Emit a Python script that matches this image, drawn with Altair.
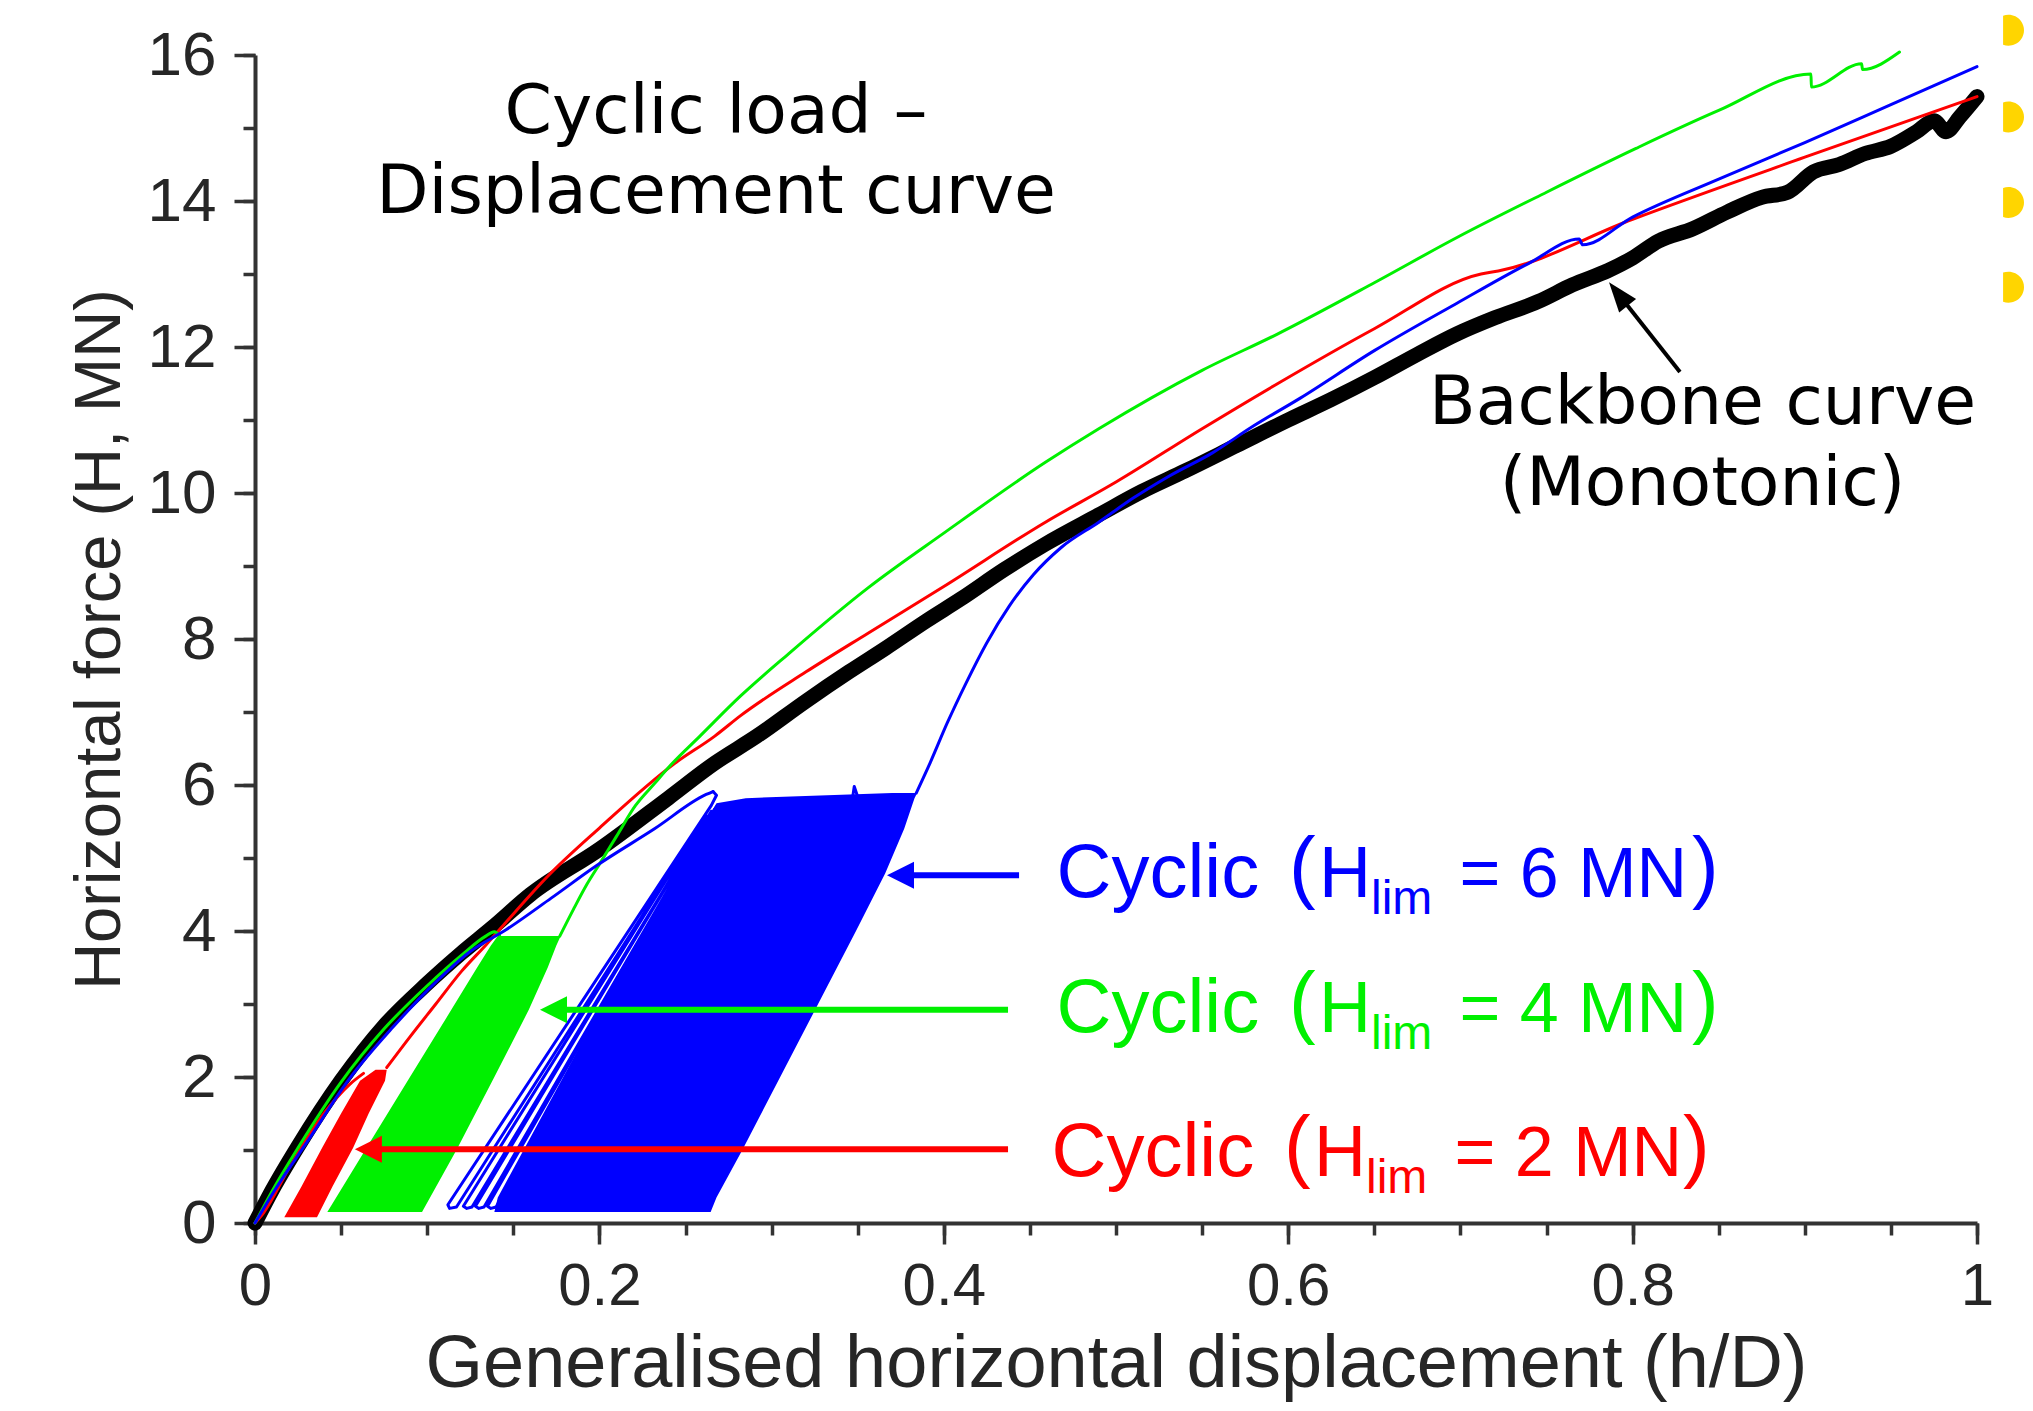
import math
import altair as alt
import pandas as pd

# ---------------- values ----------------
# Monotonic backbone curve (h/D, H in MN)
backbone = [(0.0, 0.0), (0.01, 0.45), (0.025, 1.05), (0.05, 1.95), (0.075, 2.7), (0.1, 3.28),
            (0.12, 3.7), (0.138, 4.05), (0.16, 4.5), (0.2, 5.12), (0.24, 5.82), (0.267, 6.3),
            (0.2915, 6.67), (0.32, 7.15), (0.345, 7.55), (0.366, 7.87), (0.39, 8.25), (0.41, 8.55),
            (0.435, 8.95), (0.459, 9.3), (0.49, 9.7), (0.515, 10.02), (0.54, 10.3), (0.57, 10.65),
            (0.6, 11.0), (0.625, 11.28), (0.65, 11.58), (0.675, 11.9), (0.698, 12.18), (0.72, 12.4),
            (0.745, 12.62), (0.765, 12.85), (0.786, 13.05), (0.8, 13.22), (0.815, 13.45),
            (0.835, 13.62), (0.855, 13.85), (0.875, 14.05), (0.89, 14.12), (0.905, 14.4),
            (0.92, 14.5), (0.935, 14.65), (0.95, 14.75), (0.965, 14.95), (0.975, 15.1),
            (0.982, 14.95), (0.99, 15.15), (1.0, 15.43)]

# Cyclic, Hlim = 2 MN (red)
red_first = [(0.0, 0.0), (0.005, 0.14), (0.02, 0.76), (0.04, 1.5), (0.055, 1.9), (0.063, 2.05)]
red_after = [(0.0765, 2.13), (0.09, 2.55), (0.105, 3.0), (0.12, 3.45), (0.1345, 3.82), (0.145, 4.1),
             (0.17, 4.75), (0.2, 5.41), (0.244, 6.3), (0.267, 6.67), (0.282, 6.95), (0.32, 7.55),
             (0.356, 8.08), (0.4, 8.72), (0.459, 9.6), (0.5, 10.15), (0.55, 10.88), (0.594, 11.5),
             (0.65, 12.25), (0.712, 13.0), (0.722, 13.04), (0.8, 13.75), (0.9, 14.6), (1.0, 15.43)]
# dense cycles band: (H, left h/D, right h/D)
red_band = [(0.08, 0.017, 0.036), (0.5, 0.027, 0.045), (1.03, 0.039, 0.057), (1.5, 0.05, 0.066),
            (1.95, 0.061, 0.0755), (2.1, 0.07, 0.0765)]

# Cyclic, Hlim = 4 MN (green)
green_first = [(0.0, 0.0), (0.01, 0.44), (0.025, 1.03), (0.05, 1.93), (0.075, 2.66), (0.1, 3.25),
               (0.12, 3.67), (0.134, 3.93), (0.139, 3.99), (0.142, 3.94)]
green_after = [(0.177, 3.93), (0.185, 4.3), (0.193, 4.65), (0.2004, 4.93), (0.21, 5.3), (0.221, 5.72),
               (0.232, 6.02), (0.2417, 6.28), (0.2584, 6.67), (0.282, 7.22), (0.31, 7.8), (0.356, 8.7),
               (0.4, 9.45), (0.459, 10.42), (0.49, 10.88), (0.55, 11.68), (0.594, 12.18), (0.65, 12.88),
               (0.698, 13.5), (0.75, 14.12), (0.802, 14.72), (0.85, 15.24), (0.9036, 15.74),
               (0.9038, 15.56), (0.933, 15.88), (0.9335, 15.8), (0.955, 16.04)]
green_band = [(0.15, 0.042, 0.097), (1.0, 0.064, 0.117), (2.0, 0.09, 0.139), (2.92, 0.114, 0.159),
              (3.5, 0.129, 0.17), (3.8, 0.137, 0.175), (3.93, 0.141, 0.1775)]

# Cyclic, Hlim = 6 MN (blue)
blue_first = [(0.0, 0.0), (0.012, 0.47), (0.03, 1.1), (0.055, 1.98), (0.08, 2.68), (0.105, 3.3),
              (0.125, 3.72), (0.146, 4.02), (0.172, 4.45), (0.198, 4.89), (0.232, 5.4), (0.262, 5.87),
              (0.266, 5.91)]
blue_loops = [(0.266, 5.91), (0.268, 5.86), (0.265, 5.72), (0.112, 0.25), (0.113, 0.2), (0.117, 0.22),
              (0.262, 5.58), (0.121, 0.23), (0.123, 0.2), (0.126, 0.22), (0.265, 5.64), (0.128, 0.23),
              (0.13, 0.2), (0.133, 0.22), (0.267, 5.67), (0.135, 0.23), (0.137, 0.2), (0.14, 0.22),
              (0.268, 5.7)]
blue_blip = [(0.347, 5.82), (0.348, 5.98), (0.35, 5.84)]
blue_after = [(0.384, 5.89), (0.392, 6.3), (0.402, 6.85), (0.413, 7.4), (0.425, 7.95), (0.438, 8.45),
              (0.452, 8.88), (0.468, 9.25), (0.49, 9.6), (0.51, 9.93), (0.53, 10.22), (0.556, 10.55),
              (0.58, 10.92), (0.607, 11.3), (0.65, 11.95), (0.698, 12.6), (0.74, 13.15), (0.769, 13.48),
              (0.771, 13.4), (0.8, 13.78), (0.85, 14.3), (0.9, 14.8), (0.95, 15.32), (1.0, 15.84)]
blue_band = [(0.15, 0.139, 0.2646), (0.35, 0.141, 0.268), (1.0, 0.156, 0.283), (2.0, 0.179, 0.305),
             (3.0, 0.202, 0.327), (4.0, 0.226, 0.349), (4.79, 0.245, 0.366), (5.4, 0.259, 0.377),
             (5.75, 0.268, 0.382), (5.82, 0.285, 0.383), (5.89, 0.37, 0.3845)]

x_major = [0, 0.2, 0.4, 0.6, 0.8, 1.0]
x_minor = [0, 0.05, 0.1, 0.15, 0.2, 0.25, 0.3, 0.35, 0.4, 0.45, 0.5, 0.55, 0.6, 0.65, 0.7,
           0.75, 0.8, 0.85, 0.9, 0.95, 1.0]
y_major = [0, 2, 4, 6, 8, 10, 12, 14, 16]
y_minor = [0, 1, 2, 3, 4, 5, 6, 7, 8, 9, 10, 11, 12, 13, 14, 15, 16]

# ---------------- annotation anchors (data units) ----------------
title_lines = ["Cyclic load \u2013", "Displacement curve"]
title_x = 0.2677
title_y = [14.93, 13.84]
bb_label_lines = ["Backbone curve", "(Monotonic)"]
bb_label_x = 0.8406
bb_label_y = [10.95, 9.83]
bb_arrow_tip = (0.7863, 12.887)
bb_arrow_tail = (0.8275, 11.659)

cyc_names = ["6", "4", "2"]
cyc_colors = ["#0000FF", "#00F000", "#FF0000"]
cyc_base_y = [4.464, 2.621, 0.642]
cyc_sub_y = [4.232, 2.389, 0.410]
cyc_paren_y = [4.519, 2.676, 0.696]
# x anchors of: "Cyclic", "(", "H", "lim", "= n MN", ")"
cyc_piece_x = [[0.4655, 0.6005, 0.6179, 0.6481, 0.6995, 0.8345],
               [0.4655, 0.6005, 0.6179, 0.6481, 0.6995, 0.8345],
               [0.4626, 0.5976, 0.6150, 0.6452, 0.6966, 0.8293]]
arrow_y = [4.764, 2.921, 1.01]
arrow_tip = [0.367, 0.1655, 0.058]
arrow_tail = [0.4437, 0.4373, 0.4373]

yellow_x = 1.0183
yellow_y = [16.34, 15.15, 13.98, 12.82]

# ---------------- chart ----------------
W, H = 1722, 1168
AX = "#333333"
TX = "#262626"
xs = alt.Scale(domain=[0, 1], nice=False, zero=False)
ys = alt.Scale(domain=[0, 16], nice=False, zero=False)


def path_df(*segs):
    rows = []
    for s, seg in enumerate(segs):
        for i, (x, y) in enumerate(seg):
            rows.append({"x": x, "y": y, "seg": s, "i": i})
    return pd.DataFrame(rows)


def line_layer(df, color, width, axes=False, interp="linear"):
    if axes:
        ax_x = alt.Axis(values=x_major, format="~g", orient="bottom", grid=False,
                        domainColor=AX, domainWidth=4, tickColor=AX, tickWidth=3.5, tickSize=21,
                        labelFont="Liberation Sans", labelFontSize=60, labelColor=TX,
                        labelPadding=60, labelBaseline="alphabetic", labelFlush=False,
                        labelOverlap=False,
                        title="Generalised horizontal displacement (h/D)",
                        titleFont="Liberation Sans", titleFontSize=74, titleFontWeight="normal",
                        titleColor=TX, titleX=W / 2, titleY=163, titleAlign="center",
                        titleBaseline="alphabetic")
        ax_y = alt.Axis(values=y_major, format="~g", orient="left", grid=False,
                        domainColor=AX, domainWidth=4, tickColor=AX, tickWidth=3.5, tickSize=21,
                        labelFont="Liberation Sans", labelFontSize=62, labelColor=TX,
                        labelPadding=18, labelBaseline="middle", labelOverlap=False,
                        labelFlush=False,
                        title="Horizontal force (H, MN)",
                        titleFont="Liberation Sans", titleFontSize=65, titleFontWeight="normal",
                        titleColor=TX, titleX=-136, titleY=H / 2, titleAngle=270,
                        titleAlign="center", titleBaseline="alphabetic")
    else:
        ax_x = None
        ax_y = None
    return alt.Chart(df).mark_line(color=color, strokeWidth=width, strokeJoin="round",
                                   strokeCap="round", interpolate=interp).encode(
        x=alt.X("x:Q", scale=xs, axis=ax_x),
        y=alt.Y("y:Q", scale=ys, axis=ax_y),
        detail="seg:N",
        order="i:Q",
    )


def band_layer(rows, color):
    df = pd.DataFrame(rows, columns=["y", "xl", "xr"])
    return alt.Chart(df).mark_area(orient="horizontal", color=color, opacity=1).encode(
        y=alt.Y("y:Q", scale=ys, axis=None),
        x=alt.X("xl:Q", scale=xs, axis=None),
        x2="xr:Q",
    )


minor = alt.Chart(pd.DataFrame({"x": [0.0], "y": [0.0]})).mark_point(opacity=0).encode(
    x=alt.X("x:Q", scale=xs, axis=alt.Axis(values=x_minor, orient="bottom", labels=False,
                                           domain=False, grid=False, tickColor=AX,
                                           tickWidth=3.5, tickSize=12, title=None)),
    y=alt.Y("y:Q", scale=ys, axis=alt.Axis(values=y_minor, orient="left", labels=False,
                                           domain=False, grid=False, tickColor=AX,
                                           tickWidth=3.5, tickSize=12, title=None)),
)

black = line_layer(path_df(backbone), "#000000", 15, axes=True, interp="monotone")
red_l = line_layer(path_df(red_first, red_after), cyc_colors[2], 3, interp="monotone")
green_l = line_layer(path_df(green_first, green_after), cyc_colors[1], 3, interp="monotone")
blue_s = line_layer(path_df(blue_first, blue_after), cyc_colors[0], 3, interp="monotone")
blue_lp = line_layer(path_df(blue_loops, blue_blip), cyc_colors[0], 3)

bands = [band_layer(red_band, cyc_colors[2]), band_layer(green_band, cyc_colors[1]),
         band_layer(blue_band, cyc_colors[0])]

# horizontal arrows
HEAD = 27.0
head_dx = HEAD / 2 / W
arr = pd.DataFrame({"y": arrow_y, "tip": arrow_tip, "tail": arrow_tail, "c": cyc_colors})
arr["base"] = arr["tip"] + head_dx
shafts = alt.Chart(arr).mark_rule(strokeWidth=6).encode(
    x=alt.X("base:Q", scale=xs, axis=None), x2="tail:Q",
    y=alt.Y("y:Q", scale=ys, axis=None), color=alt.Color("c:N", scale=None))
heads = alt.Chart(arr).mark_point(shape="M -1 0 L 1 -1 L 1 1 Z", size=HEAD * HEAD, filled=True,
                                  opacity=1, strokeWidth=0, xOffset=HEAD / 2).encode(
    x=alt.X("tip:Q", scale=xs, axis=None), y=alt.Y("y:Q", scale=ys, axis=None),
    color=alt.Color("c:N", scale=None))

# backbone arrow (diagonal)
pxx, pxy = W / 1.0, H / 16.0
vx = (bb_arrow_tip[0] - bb_arrow_tail[0]) * pxx
vy = -(bb_arrow_tip[1] - bb_arrow_tail[1]) * pxy
vl = math.hypot(vx, vy)
ux, uy = vx / vl, vy / vl
ang = math.degrees(math.atan2(-uy, -ux)) % 360
BH = 30.0
cx = bb_arrow_tip[0] - (BH / 2) * ux / pxx
cy = bb_arrow_tip[1] + (BH / 2) * uy / pxy
bbar = pd.DataFrame({"x": [bb_arrow_tail[0]], "y": [bb_arrow_tail[1]], "x2": [cx], "y2": [cy],
                     "tx": [bb_arrow_tip[0]], "ty": [bb_arrow_tip[1]]})
bb_shaft = alt.Chart(bbar).mark_rule(strokeWidth=4, color="#000000").encode(
    x=alt.X("x:Q", scale=xs, axis=None), y=alt.Y("y:Q", scale=ys, axis=None), x2="x2:Q", y2="y2:Q")
bb_head = alt.Chart(bbar).mark_point(shape="M -1 0 L 1 -0.72 L 1 0.72 Z", size=BH * BH, filled=True,
                                     opacity=1, strokeWidth=0, color="#000000", angle=ang,
                                     xOffset=-(BH / 2) * ux, yOffset=-(BH / 2) * uy).encode(
    x=alt.X("tx:Q", scale=xs, axis=None), y=alt.Y("ty:Q", scale=ys, axis=None))

# black annotation texts
tdf = pd.DataFrame({"t": title_lines + bb_label_lines,
                    "x": [title_x, title_x, bb_label_x, bb_label_x],
                    "y": title_y + bb_label_y})
texts_black = alt.Chart(tdf).mark_text(font="DejaVu Sans", fontSize=68, align="center",
                                       baseline="alphabetic", color="#000000").encode(
    x=alt.X("x:Q", scale=xs, axis=None), y=alt.Y("y:Q", scale=ys, axis=None), text="t:N")

# coloured "Cyclic (H_lim = n MN)" labels, built from pieces
rows = []
for k in range(3):
    px = cyc_piece_x[k]
    pieces = [("Cyclic", px[0], cyc_base_y[k], 76), ("(", px[1], cyc_paren_y[k], 80),
              ("H", px[2], cyc_base_y[k], 72), ("lim", px[3], cyc_sub_y[k], 48),
              ("= " + cyc_names[k] + " MN", px[4], cyc_base_y[k], 70),
              (")", px[5], cyc_paren_y[k], 80)]
    for t, x, y, fs in pieces:
        rows.append({"t": t, "x": x, "y": y, "fs": fs, "c": cyc_colors[k]})
cdf = pd.DataFrame(rows)
texts_cyc = alt.Chart(cdf).mark_text(font="Liberation Sans", align="left",
                                     baseline="alphabetic").encode(
    x=alt.X("x:Q", scale=xs, axis=None), y=alt.Y("y:Q", scale=ys, axis=None), text="t:N",
    size=alt.Size("fs:Q", scale=None), color=alt.Color("c:N", scale=None))

# cut yellow markers at right edge
ydf = pd.DataFrame({"x": [yellow_x] * len(yellow_y), "y": yellow_y})
yellow = alt.Chart(ydf).mark_point(shape="M -0.35 -0.937 A 1 1 0 1 1 -0.35 0.937 Z", size=961,
                                   filled=True, opacity=1, strokeWidth=0, color="#FFD500").encode(
    x=alt.X("x:Q", scale=xs, axis=None), y=alt.Y("y:Q", scale=ys, axis=None))

chart = alt.layer(minor, black, *bands, red_l, green_l, blue_s, blue_lp, shafts, heads, bb_shaft,
                  bb_head, texts_black, texts_cyc, yellow).resolve_axis(
    x="independent", y="independent").properties(
    width=W, height=H,
    padding={"left": 247, "top": 47, "right": 48, "bottom": 180},
    autosize=alt.AutoSizeParams(type="none"),
    background="white",
).configure_view(stroke=None)

chart.save("out.html", embed_options={"renderer": "svg", "actions": False})
